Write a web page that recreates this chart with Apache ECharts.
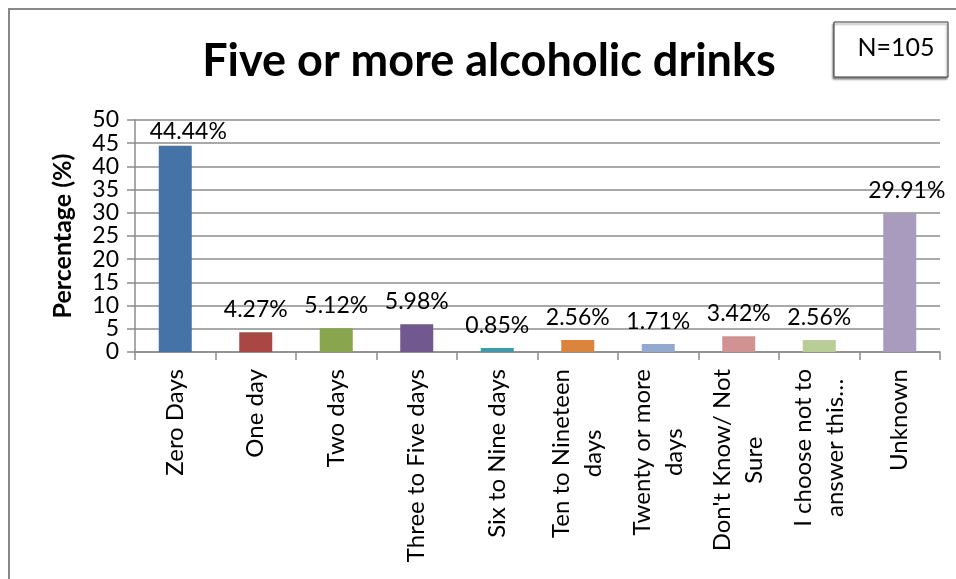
<!DOCTYPE html>
<html>
<head>
<meta charset="utf-8">
<script src="https://cdn.jsdelivr.net/npm/echarts@6/dist/echarts.min.js"></script>
<style>
  html, body { margin: 0; padding: 0; background: #ffffff; }
  #chart { width: 956px; height: 579px; }
</style>
</head>
<body>
<div id="chart"></div>
<script>
// Response categories (line breaks mark where the axis label wraps)
const categories = [
  'Zero Days',
  'One day',
  'Two days',
  'Three to Five days',
  'Six to Nine days',
  'Ten to Nineteen\ndays',
  'Twenty or more\ndays',
  "Don't Know/ Not\nSure",
  'I choose not to\nanswer this\u2026',
  'Unknown'
];

// Share of respondents (%) in each category
const percentages = [44.44, 4.27, 5.12, 5.98, 0.85, 2.56, 1.71, 3.42, 2.56, 29.91];

// Fill colour for each bar, in category order
const barColors = [
  '#4572A7', '#AA4643', '#89A54E', '#71588F', '#4198AF',
  '#DB843D', '#93A9CF', '#D19392', '#B9CD96', '#A99BBD'
];

// Y axis scale and tick labels
const yMin = 0;
const yMax = 50;
const yStep = 5;

const sampleSize = 'N=105';
const chartTitle = 'Five or more alcoholic drinks';
const yAxisTitle = 'Percentage (%)';

const FONT = 'Lato, "Open Sans", sans-serif';
const GRID_COLOR = '#8c8c8c';

// Per-bar label nudges for the tallest bars
const labelTweaks = {
  0: { distance: 3, offset: [13, 0] },
  9: { distance: 11, offset: [7, 0] }
};

const chart = echarts.init(document.getElementById('chart'), null, { renderer: 'canvas' });

const barData = percentages.map((v, i) => {
  const item = { value: v, itemStyle: { color: barColors[i] } };
  if (labelTweaks[i]) {
    item.label = { distance: labelTweaks[i].distance, offset: labelTweaks[i].offset };
  }
  return item;
});

const option = {
  animation: false,
  backgroundColor: '#ffffff',
  grid: {
    left: 135,
    right: 16,
    top: 120,
    bottom: 227,
    containLabel: false
  },
  xAxis: {
    type: 'category',
    data: categories,
    axisLine: { show: true, lineStyle: { color: GRID_COLOR, width: 1.5 } },
    axisTick: { show: true, length: 8, interval: 0, lineStyle: { color: GRID_COLOR, width: 1.5 } },
    axisLabel: {
      interval: 0,
      rotate: 90,
      margin: 17,
      color: '#000000',
      fontFamily: FONT,
      fontSize: 24,
      formatter: (val) => val.split('\n').map(l => '{c|' + l + '}').join('\n'),
      rich: {
        c: {
          align: 'center',
          fontFamily: FONT,
          fontSize: 24,
          lineHeight: 32,
          color: '#000000'
        }
      }
    }
  },
  yAxis: {
    type: 'value',
    min: yMin,
    max: yMax,
    interval: yStep,
    name: yAxisTitle,
    nameLocation: 'middle',
    nameGap: 60,
    nameRotate: 90,
    nameTextStyle: {
      fontFamily: FONT,
      fontWeight: 'bold',
      fontSize: 25,
      color: '#000000'
    },
    axisLine: { show: true, lineStyle: { color: GRID_COLOR, width: 1.5 } },
    axisTick: { show: true, length: 8, lineStyle: { color: GRID_COLOR, width: 1.5 } },
    axisLabel: {
      margin: 16,
      color: '#000000',
      fontFamily: FONT,
      fontSize: 23
    },
    splitLine: { show: true, lineStyle: { color: GRID_COLOR, width: 1.5 } }
  },
  series: [{
    type: 'bar',
    data: barData,
    barWidth: '41%',
    label: {
      show: true,
      position: 'top',
      distance: 11,
      color: '#000000',
      fontFamily: FONT,
      fontSize: 23,
      formatter: (p) => p.value.toFixed(2) + '%'
    }
  }],
  graphic: [
    // frame around the chart (top and left edges visible)
    {
      type: 'polyline',
      shape: { points: [[9, 600], [9, 9], [980, 9]] },
      style: { stroke: '#888888', lineWidth: 2, fill: null },
      silent: true
    },
    // chart title
    {
      type: 'text',
      x: 489,
      y: 61,
      style: {
        text: chartTitle,
        fontFamily: FONT,
        fontWeight: 'bold',
        fontSize: 45,
        fill: '#000000',
        textAlign: 'center',
        textVerticalAlign: 'middle'
      },
      silent: true
    },
    // sample size box with a soft drop shadow
    {
      type: 'rect',
      shape: { x: 834, y: 22, width: 114, height: 55 },
      style: {
        fill: '#ffffff',
        stroke: '#3a3a3a',
        lineWidth: 1,
        shadowColor: 'rgba(0,0,0,0.45)',
        shadowBlur: 2,
        shadowOffsetX: -1,
        shadowOffsetY: 2
      },
      silent: true
    },
    {
      type: 'text',
      x: 896,
      y: 48,
      style: {
        text: sampleSize,
        fontFamily: FONT,
        fontSize: 25,
        fill: '#000000',
        textAlign: 'center',
        textVerticalAlign: 'middle'
      },
      silent: true
    }
  ]
};

chart.setOption(option);
</script>
</body>
</html>
